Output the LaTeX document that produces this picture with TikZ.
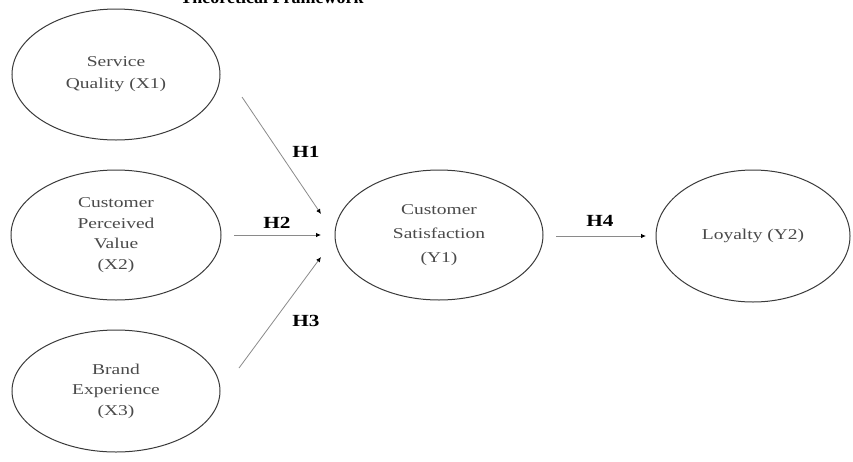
\documentclass[tikz,border=0pt]{standalone}
\usepackage{fontspec}
\setmainfont{Liberation Serif}
\newfontfamily\wide[FakeStretch=1.3]{Liberation Serif}
\newfontfamily\widebold[FakeStretch=1.25]{Liberation Serif Bold}
\usetikzlibrary{shapes.geometric,arrows.meta}
\definecolor{txt}{HTML}{4A4A4A}
\definecolor{edge}{HTML}{3A3A3A}
\definecolor{conn}{HTML}{8A8A8A}
\begin{document}
\begin{tikzpicture}[x=1pt,y=-1pt,
  oval/.style={ellipse,draw=edge,line width=1pt,inner sep=0pt,align=center,
    text=txt,font=\wide\fontsize{15}{20.5}\selectfont},
  link/.style={draw=conn,line width=0.8pt,
    arrows={-{Latex[length=5pt,width=4.5pt,color=black]}}},
  hyp/.style={font=\widebold\fontsize{17}{18}\selectfont,text=black}]
\useasboundingbox (0,0) rectangle (853,461);
\node[font=\bfseries\fontsize{18}{20}\selectfont,anchor=base] (title) at (272,3.5) {Theoretical Framework};
\node[oval,minimum width=208pt,minimum height=131pt,font=\wide\fontsize{15}{22}\selectfont] (x1) at (116,74.5) {Service\\Quality (X1)};
\node[oval,minimum width=210pt,minimum height=130pt] (x2) at (116,235) {Customer\\Perceived\\Value\\(X2)};
\node[oval,minimum width=208pt,minimum height=122pt] (x3) at (116,391) {Brand\\Experience\\(X3)};
\node[oval,minimum width=208pt,minimum height=130pt,font=\wide\fontsize{15}{24}\selectfont] (y1) at (439,235) {Customer\\Satisfaction\\(Y1)};
\node[oval,minimum width=194pt,minimum height=132pt] (y2) at (753,236) {Loyalty (Y2)};
\coordinate (s1) at (242,97);
\coordinate (e1) at (321,214);
\coordinate (s2) at (234,235);
\coordinate (e2) at (321,235);
\coordinate (s3) at (239,368);
\coordinate (e3) at (321,257);
\coordinate (s4) at (556,236);
\coordinate (e4) at (646,236);
\draw[link] (s1) -- (e1);
\draw[link] (s2) -- (e2);
\draw[link] (s3) -- (e3);
\draw[link] (s4) -- (e4);
\node[hyp] (h1) at (306,152) {H1};
\node[hyp] (h2) at (277,223) {H2};
\node[hyp] (h3) at (306,321) {H3};
\node[hyp] (h4) at (600,221) {H4};
\end{tikzpicture}
\end{document}
